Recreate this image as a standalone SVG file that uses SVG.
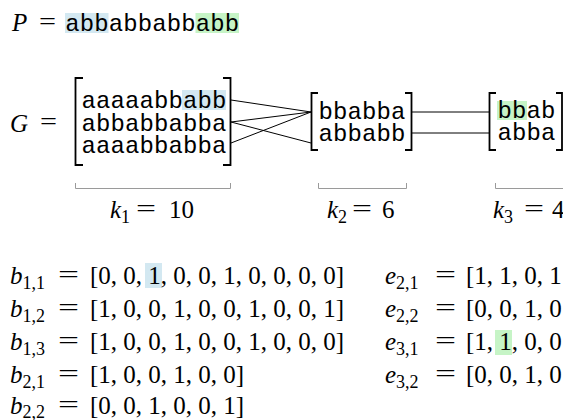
<svg xmlns="http://www.w3.org/2000/svg" width="563" height="420" viewBox="0 0 563 420">
  <style>
    .m { font-family: "Liberation Serif", "Times New Roman", serif; font-size: 25px; fill: #000; }
    .i { font-style: italic; }
    .s { font-size: 18px; font-style: normal; }
    .tt { font-family: "Liberation Mono", "Courier New", monospace; font-size: 24px; letter-spacing: 0.1px; fill: #000; }
    .br { fill: none; stroke: #000; stroke-width: 1.8; }
    .brace { fill: none; stroke: #9a9a9a; stroke-width: 1; }
    .conn { stroke: #000; stroke-width: 1; fill: none; }
    .hb { fill: #d3e8f1; }
    .hg { fill: #c6f4c6; }
  </style>

  <!-- pattern P -->
  <g id="pattern">
    <rect class="hb" x="65" y="13" width="43.5" height="20"/>
    <rect class="hg" x="195.5" y="13" width="43.5" height="20"/>
    <text class="m i" x="12" y="31">P</text>
    <text class="m" x="39" y="30" textLength="17" lengthAdjust="spacingAndGlyphs">=</text>
    <text class="tt" x="65.3" y="31">abbabbabbabb</text>
  </g>

  <!-- G label -->
  <g id="g-label">
    <text class="m i" x="10" y="132">G</text>
    <text class="m" x="40" y="130" textLength="17" lengthAdjust="spacingAndGlyphs">=</text>
  </g>

  <!-- block 1: three strings of length 10 -->
  <g id="block1">
    <rect class="hb" x="182" y="90" width="44" height="20"/>
    <path class="br" d="M83,78 H75.5 V165 H83"/>
    <path class="br" d="M223,78 H230.5 V165 H223"/>
    <text class="tt" x="81.5" y="108">aaaaabbabb</text>
    <text class="tt" x="81.5" y="130.5">abbabbabba</text>
    <text class="tt" x="81.5" y="153">aaaabbabba</text>
  </g>

  <!-- block 2: two strings of length 6 -->
  <g id="block2">
    <path class="br" d="M318,93 H311.5 V150 H318"/>
    <path class="br" d="M405,93 H411.5 V150 H405"/>
    <text class="tt" x="318.5" y="119">bbabba</text>
    <text class="tt" x="318.5" y="141">abbabb</text>
  </g>

  <!-- block 3: two strings of length 4 -->
  <g id="block3">
    <rect class="hg" x="497" y="101" width="30" height="19"/>
    <path class="br" d="M496,93 H489.5 V150 H496"/>
    <path class="br" d="M556,93 H562 V150 H556"/>
    <text class="tt" x="497.5" y="118">bbab</text>
    <text class="tt" x="497.5" y="140">abba</text>
  </g>

  <!-- links between blocks -->
  <g id="connectors">
    <line class="conn" x1="231" y1="100" x2="311" y2="112"/>
    <line class="conn" x1="231" y1="122" x2="311" y2="112"/>
    <line class="conn" x1="231" y1="122" x2="311" y2="143"/>
    <line class="conn" x1="231" y1="143" x2="311" y2="112"/>
    <line class="conn" x1="412" y1="112" x2="489" y2="112"/>
    <line class="conn" x1="412" y1="133" x2="489" y2="133"/>
  </g>

  <!-- width braces and k labels -->
  <g id="widths">
    <path class="brace" d="M75.5,183 V188.5 H230.5 V183"/>
    <path class="brace" d="M318.5,183 V188.5 H406.5 V183"/>
    <path class="brace" d="M495.5,183 V188.5 H563"/>
    <text class="m" x="110" y="218"><tspan class="i">k</tspan><tspan class="s" dy="5">1</tspan></text>
    <text class="m" x="136" y="217" textLength="20" lengthAdjust="spacingAndGlyphs">=</text>
    <text class="m" x="169" y="218">10</text>
    <text class="m" x="327" y="218"><tspan class="i">k</tspan><tspan class="s" dy="5">2</tspan></text>
    <text class="m" x="352" y="217" textLength="20" lengthAdjust="spacingAndGlyphs">=</text>
    <text class="m" x="382" y="218">6</text>
    <text class="m" x="493" y="218"><tspan class="i">k</tspan><tspan class="s" dy="5">3</tspan></text>
    <text class="m" x="524" y="217" textLength="20" lengthAdjust="spacingAndGlyphs">=</text>
    <text class="m" x="552" y="218">4</text>
  </g>

  <!-- b vectors -->
  <g id="b-vectors">
    <rect class="hb" x="145" y="263" width="17" height="25"/>
    <text class="m" x="10" y="284"><tspan class="i">b</tspan><tspan class="s" dy="5">1,1</tspan></text>
    <text class="m" x="58" y="283" textLength="21" lengthAdjust="spacingAndGlyphs">=</text>
    <text class="m" x="90" y="284">[0, 0, 1, 0, 0, 1, 0, 0, 0, 0]</text>

    <text class="m" x="10" y="317"><tspan class="i">b</tspan><tspan class="s" dy="5">1,2</tspan></text>
    <text class="m" x="58" y="316" textLength="21" lengthAdjust="spacingAndGlyphs">=</text>
    <text class="m" x="90" y="317">[1, 0, 0, 1, 0, 0, 1, 0, 0, 1]</text>

    <text class="m" x="10" y="350"><tspan class="i">b</tspan><tspan class="s" dy="5">1,3</tspan></text>
    <text class="m" x="58" y="349" textLength="21" lengthAdjust="spacingAndGlyphs">=</text>
    <text class="m" x="90" y="350">[1, 0, 0, 1, 0, 0, 1, 0, 0, 0]</text>

    <text class="m" x="10" y="383"><tspan class="i">b</tspan><tspan class="s" dy="5">2,1</tspan></text>
    <text class="m" x="58" y="382" textLength="21" lengthAdjust="spacingAndGlyphs">=</text>
    <text class="m" x="90" y="383">[1, 0, 0, 1, 0, 0]</text>

    <text class="m" x="10" y="414"><tspan class="i">b</tspan><tspan class="s" dy="4">2,2</tspan></text>
    <text class="m" x="58" y="413" textLength="21" lengthAdjust="spacingAndGlyphs">=</text>
    <text class="m" x="90" y="414">[0, 0, 1, 0, 0, 1]</text>
  </g>

  <!-- e vectors -->
  <g id="e-vectors">
    <rect class="hg" x="495" y="330" width="17" height="25"/>
    <text class="m" x="385" y="284"><tspan class="i">e</tspan><tspan class="s" dy="5">2,1</tspan></text>
    <text class="m" x="435" y="283" textLength="21" lengthAdjust="spacingAndGlyphs">=</text>
    <text class="m" x="466" y="284">[1, 1, 0, 1</text>

    <text class="m" x="385" y="317"><tspan class="i">e</tspan><tspan class="s" dy="5">2,2</tspan></text>
    <text class="m" x="435" y="316" textLength="21" lengthAdjust="spacingAndGlyphs">=</text>
    <text class="m" x="466" y="317">[0, 0, 1, 0</text>

    <text class="m" x="385" y="350"><tspan class="i">e</tspan><tspan class="s" dy="5">3,1</tspan></text>
    <text class="m" x="435" y="349" textLength="21" lengthAdjust="spacingAndGlyphs">=</text>
    <text class="m" x="466" y="350">[1, 1, 0, 0</text>

    <text class="m" x="385" y="383"><tspan class="i">e</tspan><tspan class="s" dy="5">3,2</tspan></text>
    <text class="m" x="435" y="382" textLength="21" lengthAdjust="spacingAndGlyphs">=</text>
    <text class="m" x="466" y="383">[0, 0, 1, 0</text>
  </g>
</svg>
